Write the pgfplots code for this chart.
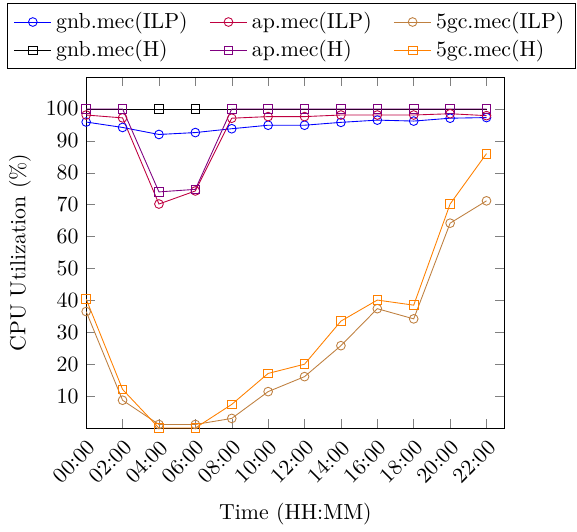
\documentclass[border=0pt]{standalone}
\usepackage{pgfplots}
\pgfplotsset{compat=1.18}
\begin{document}
\begin{tikzpicture}
\begin{axis}[
    scale only axis,
    width=192pt,
    height=161pt,
    xmin=0, xmax=11.5,
    ymin=0, ymax=110,
    xtick={0,...,11},
    xticklabels={00:00,02:00,04:00,06:00,08:00,10:00,12:00,14:00,16:00,18:00,20:00,22:00},
    xticklabel style={rotate=45, anchor=north east},
    ytick={10,20,...,100},
    xlabel={Time (HH:MM)},
    ylabel={CPU Utilization (\%)},
    legend columns=3,
    legend style={at={(0.49,1.022)}, anchor=south, /tikz/every even column/.append style={column sep=8pt}},
    legend cell align=left,
]
\addplot[blue, mark=o] coordinates {
(0,95.9) (1,94.2) (2,92.0) (3,92.6) (4,93.8) (5,94.9) (6,94.9) (7,95.8) (8,96.5) (9,96.2) (10,97.1) (11,97.3)};
\addlegendentry{gnb.mec(ILP)}
\addplot[purple, mark=o] coordinates {
(0,98.1) (1,97.2) (2,70.2) (3,74.3) (4,97.1) (5,97.6) (6,97.6) (7,98.1) (8,98.1) (9,98.1) (10,98.5) (11,97.9)};
\addlegendentry{ap.mec(ILP)}
\addplot[brown, mark=o] coordinates {
(0,36.5) (1,8.7) (2,1.1) (3,1.1) (4,3.0) (5,11.4) (6,16.1) (7,25.8) (8,37.4) (9,34.2) (10,64.2) (11,71.2)};
\addlegendentry{5gc.mec(ILP)}
\addplot[black, mark=square] coordinates {
(0,100) (1,100) (2,100) (3,100) (4,100) (5,100) (6,100) (7,100) (8,100) (9,100) (10,100) (11,100)};
\addlegendentry{gnb.mec(H)}
\addplot[violet, mark=square] coordinates {
(0,100) (1,100) (2,74.0) (3,74.8) (4,100) (5,100) (6,100) (7,100) (8,100) (9,100) (10,100) (11,100)};
\addlegendentry{ap.mec(H)}
\addplot[orange, mark=square] coordinates {
(0,40.4) (1,12.1) (2,0.0) (3,0.0) (4,7.4) (5,17.1) (6,20.0) (7,33.5) (8,40.1) (9,38.5) (10,70.2) (11,86.0)};
\addlegendentry{5gc.mec(H)}
\end{axis}
\path ([xshift=-0.8pt,yshift=1.4pt]current bounding box.north west)
      ([xshift=0.6pt]current bounding box.south east);
\end{tikzpicture}
\end{document}
